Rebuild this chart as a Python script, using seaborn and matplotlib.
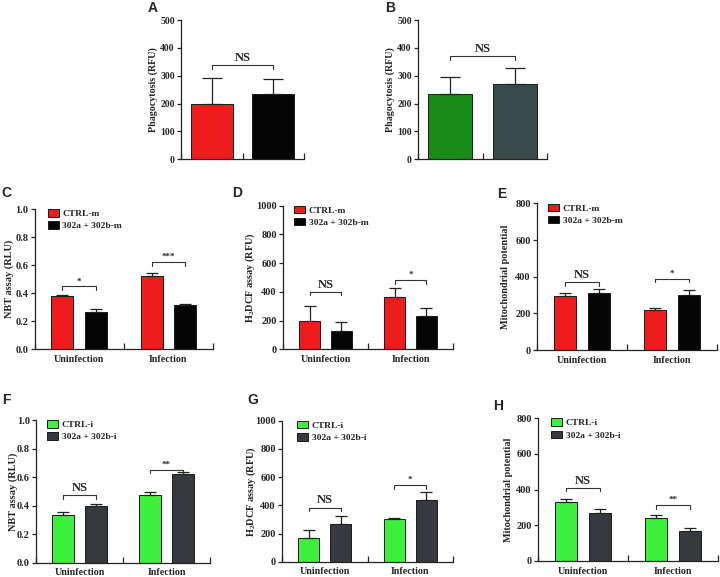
import numpy as np
import pandas as pd
import seaborn as sns
import matplotlib.pyplot as plt
from matplotlib.ticker import FixedLocator

# ---- data ----
conditions = ['Uninfection', 'Infection']

# A / B : phagocytosis
phago_m_names = ['Ctrl-m', '302a + 302b-m']
phago_m_mean = [200, 233]
phago_m_sd = [93, 57]
phago_i_names = ['Ctrl-i', '302a + 302b-i']
phago_i_mean = [234, 270]
phago_i_sd = [61, 57]

# C-E : mimic
mimic_names = ['CTRL-m', '302a + 302b-m']
nbt_m_ctrl, nbt_m_ctrl_sd = [0.377, 0.524], [0.013, 0.018]
nbt_m_trt, nbt_m_trt_sd = [0.263, 0.317], [0.023, 0.009]
dcf_m_ctrl, dcf_m_ctrl_sd = [200, 365], [100, 58]
dcf_m_trt, dcf_m_trt_sd = [130, 232], [58, 56]
mito_m_ctrl, mito_m_ctrl_sd = [297, 218], [15, 13]
mito_m_trt, mito_m_trt_sd = [312, 301], [21, 26]

# F-H : inhibitor
inhib_names = ['CTRL-i', '302a + 302b-i']
nbt_i_ctrl, nbt_i_ctrl_sd = [0.336, 0.474], [0.018, 0.019]
nbt_i_trt, nbt_i_trt_sd = [0.394, 0.622], [0.019, 0.016]
dcf_i_ctrl, dcf_i_ctrl_sd = [168, 302], [60, 7]
dcf_i_trt, dcf_i_trt_sd = [266, 439], [58, 57]
mito_i_ctrl, mito_i_ctrl_sd = [329, 243], [17, 13]
mito_i_trt, mito_i_trt_sd = [271, 168], [19, 15]

# significance brackets (height, label)
sig_A = ([338], ['NS'])
sig_B = ([370], ['NS'])
sig_C = ([0.448, 0.62], ['*', '***'])
sig_D = ([400, 479], ['NS', '*'])
sig_E = ([371, 390], ['NS', '*'])
sig_F = ([0.474, 0.652], ['NS', '**'])
sig_G = ([384, 544], ['NS', '*'])
sig_H = ([411, 312], ['NS', '**'])

# ---- style ----
sns.set_style('ticks')
plt.rcParams['font.family'] = ['Liberation Serif', 'DejaVu Serif']
plt.rcParams['font.weight'] = 'bold'
plt.rcParams['axes.labelweight'] = 'bold'
plt.rcParams['mathtext.fontset'] = 'custom'
plt.rcParams['mathtext.rm'] = 'Liberation Serif:bold'
plt.rcParams['mathtext.bf'] = 'Liberation Serif:bold'

W, H = 720, 577
fig = plt.figure(figsize=(W / 100, H / 100), dpi=100)


def px_axes(L, R, T, B):
    return fig.add_axes([L / W, 1 - B / H, (R - L) / W, (B - T) / H])


def style_axes(ax, width_px, ymax, step, fmt, ylabel, lab_off, leg_dx, tick_fs=7.5, leg_fs=6.8, lab_fs=7.4):
    ax.set_xlim(-0.5, 1.5)
    ax.set_ylim(0, ymax)
    ticks = np.arange(0, ymax + step / 2, step)
    ax.set_yticks(ticks)
    ax.set_yticklabels([fmt.format(t) for t in ticks])
    ax.xaxis.set_minor_locator(FixedLocator([-0.5, 0.5, 1.5]))
    ax.tick_params(axis='x', which='major', length=0, pad=4, labelsize=7.2)
    ax.tick_params(axis='x', which='minor', direction='in', length=4, width=0.9)
    ax.tick_params(axis='y', direction='out', length=3, width=0.9, pad=1.5, labelsize=tick_fs)
    for s in ['left', 'bottom']:
        ax.spines[s].set_linewidth(0.9)
        ax.spines[s].set_color('#222222')
    sns.despine(ax=ax)
    ax.set_xlabel('')
    ax.set_ylabel(ylabel, fontsize=lab_fs)
    ax.yaxis.set_label_coords(-(lab_off - 5) / width_px, 0.5)
    handles, labels = ax.get_legend_handles_labels()
    ax.legend(handles, labels, loc='upper left', bbox_to_anchor=(leg_dx / width_px, 1.0),
              frameon=False, fontsize=leg_fs, handlelength=1.2, handleheight=0.85,
              handletextpad=0.35, labelspacing=0.35, borderaxespad=0, borderpad=0)


def add_errors(ax, means, sds, cap):
    bars = sorted([p for c in ax.containers for p in c], key=lambda p: p.get_x())
    xs = [p.get_x() + p.get_width() / 2 for p in bars]
    ax.errorbar(xs, means, yerr=[np.zeros(len(sds)), sds], fmt='none', ecolor='#222222',
                elinewidth=0.9, capsize=cap, capthick=0.9, zorder=1)
    return xs


def add_brackets(ax, xs, sig, ymax):
    heights, marks = sig
    drop = 0.025 * ymax
    for i, (h, m) in enumerate(zip(heights, marks)):
        x0, x1 = xs[2 * i], xs[2 * i + 1]
        ax.plot([x0, x0, x1, x1], [h - drop, h, h, h - drop], color='#333333', lw=0.8)
        fs = 9 if m == 'NS' else 6.5
        ax.text((x0 + x1) / 2, h + 0.008 * ymax, m, ha='center', va='bottom', fontsize=fs)


def simple_panel(box, names, means, sds, colors, sig, letter_xy):
    L, R, T, B = box
    ax = px_axes(L, R, T, B)
    df = pd.DataFrame({'group': names, 'value': means})
    sns.barplot(data=df, x='group', y='value', hue='group', palette=colors, width=0.68,
                saturation=1, errorbar=None, edgecolor='#1a1a1a', linewidth=0.7, ax=ax)
    xs = add_errors(ax, means, sds, cap=7.5)
    heights, marks = sig
    drop = 0.03 * 500
    ax.plot([xs[0], xs[0], xs[1], xs[1]], [heights[0] - drop, heights[0], heights[0], heights[0] - drop],
            color='#333333', lw=0.8)
    ax.text((xs[0] + xs[1]) / 2, heights[0] + 5, marks[0], ha='center', va='bottom', fontsize=9)
    style_axes(ax, R - L, 500, 100, '{:.0f}', 'Phagocytosis (RFU)', 28, 8, tick_fs=7, leg_fs=7, lab_fs=7.2)
    ax.set_xticklabels([])
    fig.text(letter_xy[0] / W, 1 - letter_xy[1] / H, letter_xy[2], fontfamily='Liberation Sans',
             fontweight='bold', fontsize=10, va='center', ha='left')
    return ax


def grouped_panel(box, names, ctrl, ctrl_sd, trt, trt_sd, colors, ymax, step, fmt, ylabel,
                  lab_off, leg_dx, sig, letter_xy):
    L, R, T, B = box
    ax = px_axes(L, R, T, B)
    df = pd.DataFrame({'condition': conditions * 2,
                       'group': [names[0]] * 2 + [names[1]] * 2,
                       'value': ctrl + trt})
    sns.barplot(data=df, x='condition', y='value', hue='group', palette=colors, width=0.75, gap=0.34,
                saturation=1, errorbar=None, edgecolor='#1a1a1a', linewidth=0.7, ax=ax)
    means = [ctrl[0], trt[0], ctrl[1], trt[1]]
    sds = [ctrl_sd[0], trt_sd[0], ctrl_sd[1], trt_sd[1]]
    xs = add_errors(ax, means, sds, cap=4.3)
    add_brackets(ax, xs, sig, ymax)
    style_axes(ax, R - L, ymax, step, fmt, ylabel, lab_off, leg_dx)
    fig.text(letter_xy[0] / W, 1 - letter_xy[1] / H, letter_xy[2], fontfamily='Liberation Sans',
             fontweight='bold', fontsize=10, va='center', ha='left')
    return ax


red_black = ['#ee1c1c', '#050505']
dkgreen_gray = ['#1a8c1a', '#3a4a4a']
green_gray = ['#3cf03c', '#363a3e']
dcf_label = 'H$_\\mathbf{2}$DCF assay (RFU)'

simple_panel((181, 304, 20, 159.3), phago_m_names, phago_m_mean, phago_m_sd, red_black, sig_A, (148, 8, 'A'))
simple_panel((418, 547, 20, 159.3), phago_i_names, phago_i_mean, phago_i_sd, dkgreen_gray, sig_B, (385, 8, 'B'))

grouped_panel((34.5, 213, 209, 349.3), mimic_names, nbt_m_ctrl, nbt_m_ctrl_sd, nbt_m_trt, nbt_m_trt_sd,
              red_black, 1.0, 0.2, '{:.1f}', 'NBT assay (RLU)', 25.5, 13, sig_C, (1.5, 193, 'C'))
grouped_panel((283, 453, 205.5, 349.3), mimic_names, dcf_m_ctrl, dcf_m_ctrl_sd, dcf_m_trt, dcf_m_trt_sd,
              red_black, 1000, 200, '{:.0f}', dcf_label, 31, 11, sig_D, (232, 193, 'D'))
grouped_panel((537, 717, 203.5, 350), mimic_names, mito_m_ctrl, mito_m_ctrl_sd, mito_m_trt, mito_m_trt_sd,
              red_black, 800, 200, '{:.0f}', 'Mitochondrial potential', 32, 11, sig_E, (497, 194, 'E'))

grouped_panel((36, 210, 420, 562.7), inhib_names, nbt_i_ctrl, nbt_i_ctrl_sd, nbt_i_trt, nbt_i_trt_sd,
              green_gray, 1.0, 0.2, '{:.1f}', 'NBT assay (RLU)', 23, 11, sig_F, (2, 400, 'F'))
grouped_panel((282, 453, 420.7, 561.7), inhib_names, dcf_i_ctrl, dcf_i_ctrl_sd, dcf_i_trt, dcf_i_trt_sd,
              green_gray, 1000, 200, '{:.0f}', dcf_label, 29, 15, sig_G, (247, 400, 'G'))
grouped_panel((538, 718, 418.3, 561), inhib_names, mito_i_ctrl, mito_i_ctrl_sd, mito_i_trt, mito_i_trt_sd,
              green_gray, 800, 200, '{:.0f}', 'Mitochondrial potential', 30, 13, sig_H, (493, 406, 'H'))

fig.savefig('out.png', dpi=100)
